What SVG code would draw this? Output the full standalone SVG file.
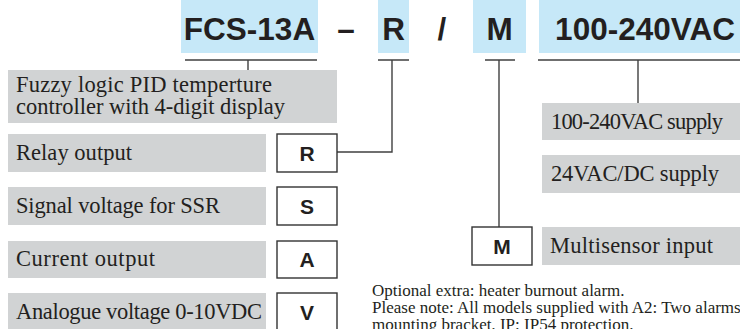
<svg xmlns="http://www.w3.org/2000/svg" width="740" height="329" viewBox="0 0 740 329">
<style>
.hdr{fill:#c6e8f8}
.gb{fill:#d1d3d4}
.wb{fill:#ffffff;stroke:#333;stroke-width:1.4}
.h{font-family:"Liberation Sans",Arial,sans-serif;font-weight:bold;font-size:31.5px;fill:#231f20;text-anchor:middle}
.k{font-family:"Liberation Sans",Arial,sans-serif;font-weight:bold;font-size:21px;fill:#231f20;text-anchor:middle}
.l{font-family:"Liberation Serif","Times New Roman",serif;font-size:22.5px;fill:#231f20}
.n{font-family:"Liberation Serif","Times New Roman",serif;font-size:17px;fill:#231f20}
.c{fill:none;stroke:#404040;stroke-width:1.4}
</style>
<rect width="740" height="329" fill="#ffffff"/>
<g id="header">
<rect class="hdr" x="181" y="0" width="137" height="53"/>
<rect class="hdr" x="378" y="0" width="31" height="53"/>
<rect class="hdr" x="473" y="0" width="53" height="53"/>
<rect class="hdr" x="539" y="0" width="201" height="53"/>
<text class="h" x="249.5" y="39.5">FCS-13A</text>
<text class="h" x="346" y="39.5">–</text>
<text class="h" x="393.5" y="39.5">R</text>
<text class="h" x="442" y="39.5">/</text>
<text class="h" x="499.5" y="39.5">M</text>
<text class="h" x="645" y="39.5">100-240VAC</text>
</g>
<g id="connectors">
<path class="c" d="M185 60H317M248 60V70"/>
<path class="c" d="M378 60H409M392 60V152H337"/>
<path class="c" d="M485 60H515M499 60V227"/>
<path class="c" d="M538 60H740M638 60V103"/>
</g>
<g id="fuzzy">
<rect class="gb" x="8" y="70" width="329" height="53"/>
<text class="l" x="16" y="92" textLength="256">Fuzzy logic PID temperture</text>
<text class="l" x="16" y="114" textLength="269">controller with 4-digit display</text>
</g>
<g id="relay">
<rect class="gb" x="8" y="134" width="258" height="38"/>
<text class="l" x="16" y="159.5" textLength="116">Relay output</text>
</g>
<g id="boxR">
<rect class="wb" x="277" y="134" width="60" height="38"/>
<text class="k" x="307" y="160.5">R</text>
</g>
<g id="signal">
<rect class="gb" x="8" y="187" width="258" height="38"/>
<text class="l" x="16" y="212.5" textLength="204">Signal voltage for SSR</text>
</g>
<g id="boxS">
<rect class="wb" x="277" y="187" width="60" height="38"/>
<text class="k" x="307" y="213.5">S</text>
</g>
<g id="current">
<rect class="gb" x="8" y="241" width="258" height="37"/>
<text class="l" x="16" y="266" textLength="139">Current output</text>
</g>
<g id="boxA">
<rect class="wb" x="277" y="241" width="60" height="37"/>
<text class="k" x="307" y="267">A</text>
</g>
<g id="analogue">
<rect class="gb" x="8" y="293" width="258" height="40"/>
<text class="l" x="16" y="318.5" textLength="246">Analogue voltage 0-10VDC</text>
</g>
<g id="boxV">
<rect class="wb" x="277" y="293" width="60" height="42"/>
<text class="k" x="307" y="319.5">V</text>
</g>
<g id="supply1">
<rect class="gb" x="542" y="103" width="200" height="37"/>
<text class="l" x="551" y="128.5" textLength="172">100-240VAC supply</text>
</g>
<g id="supply2">
<rect class="gb" x="542" y="155" width="200" height="38"/>
<text class="l" x="551" y="180.5" textLength="168">24VAC/DC supply</text>
</g>
<g id="multisensor">
<rect class="gb" x="542" y="227" width="200" height="38"/>
<text class="l" x="550" y="252.5" textLength="163">Multisensor input</text>
</g>
<g id="boxM">
<rect class="wb" x="472" y="227" width="60" height="38"/>
<text class="k" x="502" y="253.5">M</text>
</g>
<g id="notes">
<text class="n" x="372" y="295.5">Optional extra: heater burnout alarm.</text>
<text class="n" x="372" y="312.5">Please note: All models supplied with A2: Two alarms,</text>
<text class="n" x="372" y="330">mounting bracket, IP: IP54 protection.</text>
</g>
</svg>
